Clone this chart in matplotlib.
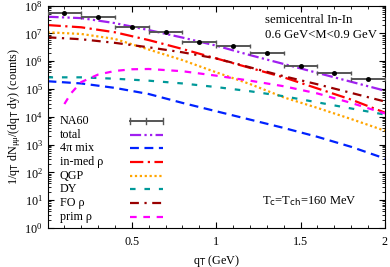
import numpy as np
import matplotlib
matplotlib.use('Agg')
import matplotlib.pyplot as plt
from matplotlib.ticker import LogLocator, MultipleLocator, FixedLocator, NullFormatter

plt.rcParams['font.family'] = ['Liberation Serif', 'DejaVu Serif']
plt.rcParams['mathtext.default'] = 'regular'
plt.rcParams['font.size'] = 8.7

# NA60 data (bin centres, half width, counts)
na60_qt = [0.1, 0.3, 0.5, 0.7, 0.9, 1.1, 1.3, 1.5, 1.7, 1.9]
na60_xerr = [0.1] * 10
na60_log = [7.74, 7.58, 7.24, 7.04, 6.70, 6.55, 6.28, 5.83, 5.58, 5.35]

# model curves, log10(counts)
qt = [0.0, 0.2, 0.4, 0.6, 0.8, 1.0, 1.2, 1.4, 1.6, 1.8, 2.0]
total_log = [7.60, 7.55, 7.37, 7.12, 6.85, 6.56, 6.22, 5.90, 5.58, 5.26, 4.94]
mix_log = [5.28, 5.20, 5.04, 4.82, 4.50, 4.20, 3.90, 3.60, 3.28, 2.92, 2.50]
inmed_log = [7.30, 7.22, 7.04, 6.76, 6.44, 6.10, 5.76, 5.42, 5.02, 4.62, 4.15]
qgp_log = [7.04, 6.98, 6.80, 6.42, 6.04, 5.60, 5.18, 4.70, 4.32, 3.92, 3.50]
dy_log = [5.42, 5.42, 5.37, 5.30, 5.20, 5.07, 4.92, 4.74, 4.52, 4.30, 4.08]
fo_log = [6.86, 6.79, 6.66, 6.50, 6.32, 6.10, 5.78, 5.46, 5.17, 4.86, 4.55]
prim_qt = [0.1, 0.14, 0.2, 0.3, 0.4, 0.5, 0.6, 0.8, 1.0, 1.2, 1.4, 1.6, 1.8, 2.0]
prim_log = [4.46, 4.85, 5.25, 5.52, 5.65, 5.71, 5.72, 5.64, 5.48, 5.30, 5.10, 4.84, 4.50, 4.12]

curves = [
    ('total', qt, total_log, '#A020F0', (0, (5, 1.5, 1, 1.5, 1, 1.5))),
    ('4\u03c0 mix', qt, mix_log, '#0022FF', (0, (4, 2.5))),
    ('in-med \u03c1', qt, inmed_log, '#FF0000', (0, (6, 2, 1, 2))),
    ('QGP', qt, qgp_log, '#FFA500', (0, (1, 1.2))),
    ('DY', qt, dy_log, '#009999', (0, (2.5, 4))),
    ('FO \u03c1', qt, fo_log, '#990000', (0, (4, 2.5, 1, 2.5))),
    ('prim \u03c1', prim_qt, prim_log, '#FF00FF', (0, (3, 3))),
]

fig = plt.figure(figsize=(3.9, 2.67), dpi=100)
ax = fig.add_axes([0.1218, 0.146, 0.8652, 0.833])

na60_y = 10 ** np.array(na60_log)
ax.errorbar(na60_qt, na60_y, xerr=na60_xerr, yerr=0.08 * na60_y, fmt='o', ms=2.5,
            mfc='black', mec='black', ecolor='#555555', elinewidth=1.4, capsize=1.5,
            capthick=1.0, zorder=5)

for label, x, ylog, color, ls in curves:
    ax.plot(x, 10 ** np.array(ylog), color=color, lw=1.6, linestyle=ls)

ax.set_yscale('log')
ax.set_xlim(0, 2)
ax.set_ylim(1, 1e8)
ax.xaxis.set_major_locator(FixedLocator([0.5, 1, 1.5, 2]))
ax.set_xticklabels(['0.5', '1', '1.5', '2'])
ax.xaxis.set_minor_locator(MultipleLocator(0.1))
ax.yaxis.set_major_locator(LogLocator(base=10, numticks=20))
ax.yaxis.set_minor_locator(LogLocator(base=10, subs=np.arange(2, 10), numticks=20))
ax.yaxis.set_minor_formatter(NullFormatter())
ax.tick_params(which='both', direction='in', top=True, right=True, labelsize=8.7)
ax.tick_params(which='major', length=4, width=0.8)
ax.tick_params(which='minor', length=2, width=0.6)
ax.tick_params(axis='x', pad=6)

ax.set_xlabel('q$_\\mathrm{T}$ (GeV)', labelpad=3)
ax.set_ylabel('1/q$_\\mathrm{T}$ dN$_{\u03bc\u03bc}$/(dq$_\\mathrm{T}$ dy) (counts)', labelpad=1)

ax.text(0.645, 0.935, 'semicentral In-In', transform=ax.transAxes, va='center', fontsize=9.2)
ax.text(0.645, 0.867, '0.6 GeV<M<0.9 GeV', transform=ax.transAxes, va='center', fontsize=9.2)
ax.text(0.636, 0.121, 'T$_\\mathrm{c}$=T$_\\mathrm{ch}$=160 MeV', transform=ax.transAxes,
        va='center', fontsize=9)

# legend, labels on the left and line samples on the right
leg_x, h0, h1 = 0.037, 0.244, 0.342
rows = 0.481 - 0.0615 * np.arange(8)
ax.text(leg_x, rows[0], 'NA60', transform=ax.transAxes, va='center')
ax.plot([h0, h1], [rows[0], rows[0]], transform=ax.transAxes, color='#555555', lw=1.4)
for xx in (h0, (h0 + h1) / 2, h1):
    ax.plot([xx, xx], [rows[0] - 0.012, rows[0] + 0.012], transform=ax.transAxes,
            color='#555555', lw=1.0)
for (label, x, ylog, color, ls), r in zip(curves, rows[1:]):
    ax.text(leg_x, r, label, transform=ax.transAxes, va='center')
    ax.plot([h0, h1], [r, r], transform=ax.transAxes, color=color, lw=1.6, linestyle=ls)

fig.savefig('out.png', dpi=100)
